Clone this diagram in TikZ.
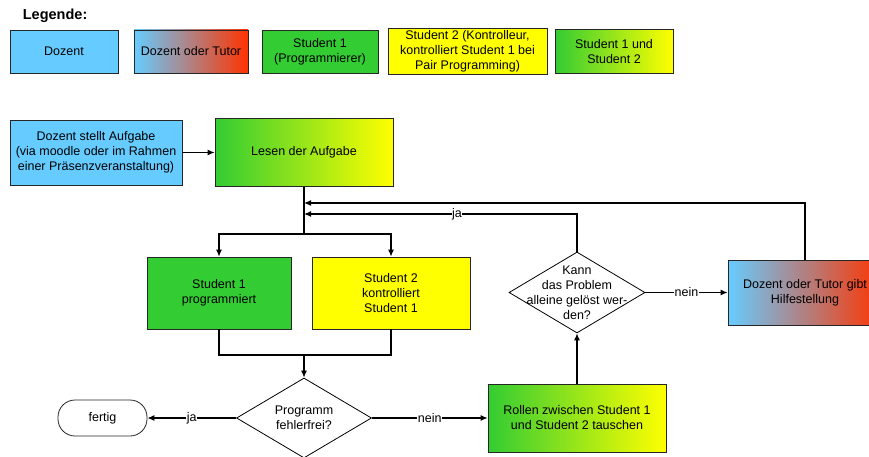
\documentclass[tikz,border=0pt]{standalone}
\usepackage{fontspec}
\setmainfont{Liberation Sans}
\usetikzlibrary{arrows.meta,shapes.geometric}
\definecolor{dozblue}{HTML}{66CCFF}
\definecolor{tutred}{HTML}{FF3300}
\definecolor{stgreen}{HTML}{33CC33}
\definecolor{styellow}{HTML}{FFFF00}

\begin{document}
\begin{tikzpicture}[->,>={Latex[length=7pt,width=6pt]},x=1pt,y=-1pt,
                    line width=1.1pt,font=\fontsize{12.5}{15}\selectfont]
  \tikzstyle{box}=[rectangle,draw=black!85,line width=0.8pt,align=center,inner sep=2pt]
  \tikzstyle{doz}=[box,fill=dozblue]
  \tikzstyle{doztut}=[box,left color=dozblue,right color=tutred]
  \tikzstyle{stone}=[box,fill=stgreen]
  \tikzstyle{sttwo}=[box,fill=styellow]
  \tikzstyle{stboth}=[box,left color=stgreen,right color=styellow]
  \tikzstyle{dia}=[diamond,draw=black,line width=0.8pt,inner sep=0pt,align=center]
  \tikzstyle{lbl}=[fill=white,inner sep=0.5pt]
  \tikzset{boxsize/.style 2 args={minimum width=#1,minimum height=#2}}

  \useasboundingbox (0,0) rectangle (869,457);

  \node[anchor=west,font=\bfseries\fontsize{14.5}{16}\selectfont] (legende) at (19,16) {Legende:};
  \node[doz,boxsize={108pt}{43pt}] (legdoz) at (64,51.5) {Dozent};
  \node[doztut,boxsize={114pt}{43pt}] (legdt) [right of=legdoz,node distance=127pt] {Dozent oder Tutor};
  \node[stone,boxsize={116pt}{43pt}] (legsone) [right of=legdt,node distance=129pt] {Student 1\\(Programmierer)};
  \node[sttwo,boxsize={159pt}{46pt}] (legstwo) [right of=legsone,node distance=147.5pt] {Student 2 (Kontrolleur,\\kontrolliert Student 1 bei\\Pair Programming)};
  \node[stboth,boxsize={118pt}{44pt}] (legboth) [right of=legstwo,node distance=146.5pt] {Student 1 und\\Student 2};

  \node[doz,boxsize={172pt}{65pt}] (dozent) at (96,152.5) {Dozent stellt Aufgabe\\(via moodle oder im Rahmen\\einer Präsenzveranstaltung)};
  \node[stboth,boxsize={178pt}{68pt}] (lesen) [right of=dozent,node distance=208pt] {Lesen der Aufgabe};
  \node[stone,boxsize={144pt}{72pt}] (sone) at (219,293) {Student 1\\programmiert};
  \node[sttwo,boxsize={158pt}{72pt}] (stwo) [right of=sone,node distance=172pt] {Student 2\\kontrolliert\\Student 1};
  \node[dia,boxsize={135pt}{80pt},label={[align=center]center:Programm\\fehlerfrei?}] (fehler) at (304,418) {};
  \node[box,rounded corners=17pt,boxsize={89pt}{36pt}] (fertig) [left of=fehler,node distance=201.5pt] {fertig};
  \node[stboth,boxsize={178pt}{68pt}] (rollen) [right of=fehler,node distance=273pt] {Rollen zwischen Student 1\\und Student 2 tauschen};
  \node[dia,boxsize={136pt}{81pt},label={[align=center]center:Kann\\das Problem\\alleine gelöst wer-\\den?}] (kann) at (577,292.5) {};
  \node[doztut,boxsize={154pt}{65pt}] (hilfe) [right of=kann,node distance=228pt] {Dozent oder Tutor gibt\\Hilfestellung};

  \coordinate (split) at (304,234);
  \coordinate (merge) at (304,355);
  \coordinate (jaend) at (304,214);
  \coordinate (hilfeend) at (304,203);

  \draw (dozent) -- (lesen);
  \draw[-] (lesen) -- (split);
  \draw (split) -| (sone);
  \draw (split) -| (stwo);
  \draw[-] (sone) |- (merge);
  \draw[-] (stwo) |- (merge);
  \draw (merge) -- (fehler);
  \draw (fehler) -- node[lbl] {ja} (fertig);
  \draw (fehler) -- node[lbl] {nein} (rollen);
  \draw (rollen) -- (kann);
  \draw (kann) -- node[lbl] {nein} (hilfe);
  \draw (kann) |- node[lbl,pos=0.72] {ja} (jaend);
  \draw (hilfe) |- (hilfeend);
\end{tikzpicture}
\end{document}
